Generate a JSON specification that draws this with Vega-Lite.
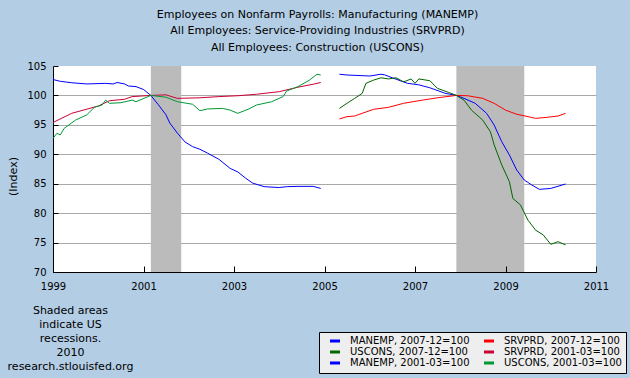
{
  "$schema": "https://vega.github.io/schema/vega-lite/v6.json",
  "width": 543,
  "height": 206,
  "autosize": {"type": "none"},
  "padding": {"left": 53, "top": 66, "right": 34, "bottom": 106},
  "background": "#B3CDE5",
  "config": {
    "view": {"fill": "#FFFFFF", "stroke": null},
    "font": "DejaVu Sans"
  },
  "title": {
    "text": ["Employees on Nonfarm Payrolls: Manufacturing (MANEMP)", "All Employees: Service-Providing Industries (SRVPRD)", "All Employees: Construction (USCONS)"],
    "font": "DejaVu Sans",
    "fontSize": 11,
    "fontWeight": "normal",
    "color": "#000000",
    "anchor": "middle",
    "lineHeight": 16.7,
    "offset": 8,
    "dx": -7
  },
  "datasets": {
    "rec": [
      {"start": "2001-03-01", "end": "2001-11-01"},
      {"start": "2007-12-01", "end": "2009-06-01"}
    ],
    "series": [
      {"date": "1999-01-01", "value": 102.7, "series": "MANEMP, 2001-03=100"},
      {"date": "1999-03-01", "value": 102.4, "series": "MANEMP, 2001-03=100"},
      {"date": "1999-06-01", "value": 102.15, "series": "MANEMP, 2001-03=100"},
      {"date": "1999-10-01", "value": 101.95, "series": "MANEMP, 2001-03=100"},
      {"date": "2000-03-01", "value": 102.05, "series": "MANEMP, 2001-03=100"},
      {"date": "2000-05-01", "value": 101.95, "series": "MANEMP, 2001-03=100"},
      {"date": "2000-06-01", "value": 102.2, "series": "MANEMP, 2001-03=100"},
      {"date": "2000-08-01", "value": 101.95, "series": "MANEMP, 2001-03=100"},
      {"date": "2000-09-01", "value": 101.6, "series": "MANEMP, 2001-03=100"},
      {"date": "2000-11-01", "value": 101.5, "series": "MANEMP, 2001-03=100"},
      {"date": "2001-01-01", "value": 101.0, "series": "MANEMP, 2001-03=100"},
      {"date": "2001-03-01", "value": 100.0, "series": "MANEMP, 2001-03=100"},
      {"date": "2001-05-01", "value": 98.4, "series": "MANEMP, 2001-03=100"},
      {"date": "2001-07-01", "value": 96.7, "series": "MANEMP, 2001-03=100"},
      {"date": "2001-08-01", "value": 95.3, "series": "MANEMP, 2001-03=100"},
      {"date": "2001-10-01", "value": 93.6, "series": "MANEMP, 2001-03=100"},
      {"date": "2001-12-01", "value": 92.1, "series": "MANEMP, 2001-03=100"},
      {"date": "2002-02-01", "value": 91.3, "series": "MANEMP, 2001-03=100"},
      {"date": "2002-04-01", "value": 90.85, "series": "MANEMP, 2001-03=100"},
      {"date": "2002-06-01", "value": 90.2, "series": "MANEMP, 2001-03=100"},
      {"date": "2002-09-01", "value": 89.15, "series": "MANEMP, 2001-03=100"},
      {"date": "2002-12-01", "value": 87.6, "series": "MANEMP, 2001-03=100"},
      {"date": "2003-02-01", "value": 87.0, "series": "MANEMP, 2001-03=100"},
      {"date": "2003-04-01", "value": 86.0, "series": "MANEMP, 2001-03=100"},
      {"date": "2003-06-01", "value": 85.1, "series": "MANEMP, 2001-03=100"},
      {"date": "2003-09-01", "value": 84.5, "series": "MANEMP, 2001-03=100"},
      {"date": "2004-01-01", "value": 84.35, "series": "MANEMP, 2001-03=100"},
      {"date": "2004-03-01", "value": 84.5, "series": "MANEMP, 2001-03=100"},
      {"date": "2004-06-01", "value": 84.55, "series": "MANEMP, 2001-03=100"},
      {"date": "2004-10-01", "value": 84.55, "series": "MANEMP, 2001-03=100"},
      {"date": "2004-12-01", "value": 84.2, "series": "MANEMP, 2001-03=100"},

      {"date": "1999-01-01", "value": 95.4, "series": "SRVPRD, 2001-03=100"},
      {"date": "1999-06-01", "value": 96.96, "series": "SRVPRD, 2001-03=100"},
      {"date": "2000-01-01", "value": 98.2, "series": "SRVPRD, 2001-03=100"},
      {"date": "2000-04-01", "value": 99.1, "series": "SRVPRD, 2001-03=100"},
      {"date": "2000-08-01", "value": 99.35, "series": "SRVPRD, 2001-03=100"},
      {"date": "2000-10-01", "value": 99.8, "series": "SRVPRD, 2001-03=100"},
      {"date": "2001-03-01", "value": 100.0, "series": "SRVPRD, 2001-03=100"},
      {"date": "2001-07-01", "value": 100.1, "series": "SRVPRD, 2001-03=100"},
      {"date": "2001-10-01", "value": 99.5, "series": "SRVPRD, 2001-03=100"},
      {"date": "2002-04-01", "value": 99.6, "series": "SRVPRD, 2001-03=100"},
      {"date": "2002-09-01", "value": 99.8, "series": "SRVPRD, 2001-03=100"},
      {"date": "2003-02-01", "value": 99.95, "series": "SRVPRD, 2001-03=100"},
      {"date": "2003-07-01", "value": 100.2, "series": "SRVPRD, 2001-03=100"},
      {"date": "2004-01-01", "value": 100.64, "series": "SRVPRD, 2001-03=100"},
      {"date": "2004-06-01", "value": 101.4, "series": "SRVPRD, 2001-03=100"},
      {"date": "2004-10-01", "value": 101.9, "series": "SRVPRD, 2001-03=100"},
      {"date": "2004-12-01", "value": 102.2, "series": "SRVPRD, 2001-03=100"},

      {"date": "1999-01-01", "value": 92.7, "series": "USCONS, 2001-03=100"},
      {"date": "1999-02-01", "value": 93.56, "series": "USCONS, 2001-03=100"},
      {"date": "1999-03-01", "value": 93.3, "series": "USCONS, 2001-03=100"},
      {"date": "1999-04-01", "value": 94.4, "series": "USCONS, 2001-03=100"},
      {"date": "1999-07-01", "value": 95.8, "series": "USCONS, 2001-03=100"},
      {"date": "1999-10-01", "value": 96.7, "series": "USCONS, 2001-03=100"},
      {"date": "1999-12-01", "value": 97.98, "series": "USCONS, 2001-03=100"},
      {"date": "2000-02-01", "value": 98.37, "series": "USCONS, 2001-03=100"},
      {"date": "2000-03-01", "value": 99.2, "series": "USCONS, 2001-03=100"},
      {"date": "2000-04-01", "value": 98.66, "series": "USCONS, 2001-03=100"},
      {"date": "2000-07-01", "value": 98.76, "series": "USCONS, 2001-03=100"},
      {"date": "2000-10-01", "value": 99.2, "series": "USCONS, 2001-03=100"},
      {"date": "2000-11-01", "value": 98.93, "series": "USCONS, 2001-03=100"},
      {"date": "2001-03-01", "value": 100.0, "series": "USCONS, 2001-03=100"},
      {"date": "2001-07-01", "value": 99.7, "series": "USCONS, 2001-03=100"},
      {"date": "2001-10-01", "value": 98.93, "series": "USCONS, 2001-03=100"},
      {"date": "2002-02-01", "value": 98.5, "series": "USCONS, 2001-03=100"},
      {"date": "2002-04-01", "value": 97.41, "series": "USCONS, 2001-03=100"},
      {"date": "2002-06-01", "value": 97.7, "series": "USCONS, 2001-03=100"},
      {"date": "2002-10-01", "value": 97.8, "series": "USCONS, 2001-03=100"},
      {"date": "2002-12-01", "value": 97.5, "series": "USCONS, 2001-03=100"},
      {"date": "2003-02-01", "value": 96.96, "series": "USCONS, 2001-03=100"},
      {"date": "2003-05-01", "value": 97.7, "series": "USCONS, 2001-03=100"},
      {"date": "2003-07-01", "value": 98.37, "series": "USCONS, 2001-03=100"},
      {"date": "2003-11-01", "value": 98.93, "series": "USCONS, 2001-03=100"},
      {"date": "2004-02-01", "value": 99.8, "series": "USCONS, 2001-03=100"},
      {"date": "2004-03-01", "value": 100.75, "series": "USCONS, 2001-03=100"},
      {"date": "2004-06-01", "value": 101.5, "series": "USCONS, 2001-03=100"},
      {"date": "2004-09-01", "value": 102.6, "series": "USCONS, 2001-03=100"},
      {"date": "2004-11-01", "value": 103.6, "series": "USCONS, 2001-03=100"},
      {"date": "2004-12-01", "value": 103.47, "series": "USCONS, 2001-03=100"},

      {"date": "2005-05-01", "value": 103.6, "series": "MANEMP, 2007-12=100"},
      {"date": "2005-07-01", "value": 103.47, "series": "MANEMP, 2007-12=100"},
      {"date": "2006-01-01", "value": 103.3, "series": "MANEMP, 2007-12=100"},
      {"date": "2006-04-01", "value": 103.6, "series": "MANEMP, 2007-12=100"},
      {"date": "2006-05-01", "value": 103.5, "series": "MANEMP, 2007-12=100"},
      {"date": "2006-07-01", "value": 103.0, "series": "MANEMP, 2007-12=100"},
      {"date": "2006-11-01", "value": 102.06, "series": "MANEMP, 2007-12=100"},
      {"date": "2007-02-01", "value": 101.8, "series": "MANEMP, 2007-12=100"},
      {"date": "2007-05-01", "value": 101.3, "series": "MANEMP, 2007-12=100"},
      {"date": "2007-09-01", "value": 100.36, "series": "MANEMP, 2007-12=100"},
      {"date": "2007-12-01", "value": 100.0, "series": "MANEMP, 2007-12=100"},
      {"date": "2008-02-01", "value": 99.5, "series": "MANEMP, 2007-12=100"},
      {"date": "2008-05-01", "value": 98.66, "series": "MANEMP, 2007-12=100"},
      {"date": "2008-08-01", "value": 96.96, "series": "MANEMP, 2007-12=100"},
      {"date": "2008-10-01", "value": 94.97, "series": "MANEMP, 2007-12=100"},
      {"date": "2008-12-01", "value": 92.14, "series": "MANEMP, 2007-12=100"},
      {"date": "2009-02-01", "value": 89.88, "series": "MANEMP, 2007-12=100"},
      {"date": "2009-04-01", "value": 87.33, "series": "MANEMP, 2007-12=100"},
      {"date": "2009-06-01", "value": 85.63, "series": "MANEMP, 2007-12=100"},
      {"date": "2009-08-01", "value": 84.78, "series": "MANEMP, 2007-12=100"},
      {"date": "2009-10-01", "value": 84.04, "series": "MANEMP, 2007-12=100"},
      {"date": "2010-01-01", "value": 84.2, "series": "MANEMP, 2007-12=100"},
      {"date": "2010-05-01", "value": 84.95, "series": "MANEMP, 2007-12=100"},

      {"date": "2005-05-01", "value": 96.0, "series": "SRVPRD, 2007-12=100"},
      {"date": "2005-07-01", "value": 96.4, "series": "SRVPRD, 2007-12=100"},
      {"date": "2005-09-01", "value": 96.5, "series": "SRVPRD, 2007-12=100"},
      {"date": "2005-11-01", "value": 96.96, "series": "SRVPRD, 2007-12=100"},
      {"date": "2006-02-01", "value": 97.64, "series": "SRVPRD, 2007-12=100"},
      {"date": "2006-06-01", "value": 97.98, "series": "SRVPRD, 2007-12=100"},
      {"date": "2006-10-01", "value": 98.66, "series": "SRVPRD, 2007-12=100"},
      {"date": "2007-03-01", "value": 99.2, "series": "SRVPRD, 2007-12=100"},
      {"date": "2007-07-01", "value": 99.6, "series": "SRVPRD, 2007-12=100"},
      {"date": "2007-12-01", "value": 100.0, "series": "SRVPRD, 2007-12=100"},
      {"date": "2008-03-01", "value": 99.95, "series": "SRVPRD, 2007-12=100"},
      {"date": "2008-07-01", "value": 99.5, "series": "SRVPRD, 2007-12=100"},
      {"date": "2008-10-01", "value": 98.66, "series": "SRVPRD, 2007-12=100"},
      {"date": "2009-01-01", "value": 97.5, "series": "SRVPRD, 2007-12=100"},
      {"date": "2009-04-01", "value": 96.8, "series": "SRVPRD, 2007-12=100"},
      {"date": "2009-07-01", "value": 96.4, "series": "SRVPRD, 2007-12=100"},
      {"date": "2009-09-01", "value": 96.1, "series": "SRVPRD, 2007-12=100"},
      {"date": "2009-12-01", "value": 96.28, "series": "SRVPRD, 2007-12=100"},
      {"date": "2010-03-01", "value": 96.5, "series": "SRVPRD, 2007-12=100"},
      {"date": "2010-05-01", "value": 96.96, "series": "SRVPRD, 2007-12=100"},

      {"date": "2005-05-01", "value": 97.8, "series": "USCONS, 2007-12=100"},
      {"date": "2005-07-01", "value": 98.66, "series": "USCONS, 2007-12=100"},
      {"date": "2005-09-01", "value": 99.5, "series": "USCONS, 2007-12=100"},
      {"date": "2005-11-01", "value": 100.36, "series": "USCONS, 2007-12=100"},
      {"date": "2005-12-01", "value": 102.06, "series": "USCONS, 2007-12=100"},
      {"date": "2006-02-01", "value": 102.6, "series": "USCONS, 2007-12=100"},
      {"date": "2006-04-01", "value": 103.0, "series": "USCONS, 2007-12=100"},
      {"date": "2006-06-01", "value": 102.8, "series": "USCONS, 2007-12=100"},
      {"date": "2006-08-01", "value": 103.0, "series": "USCONS, 2007-12=100"},
      {"date": "2006-10-01", "value": 102.3, "series": "USCONS, 2007-12=100"},
      {"date": "2006-12-01", "value": 102.8, "series": "USCONS, 2007-12=100"},
      {"date": "2007-01-01", "value": 102.06, "series": "USCONS, 2007-12=100"},
      {"date": "2007-02-01", "value": 102.8, "series": "USCONS, 2007-12=100"},
      {"date": "2007-05-01", "value": 102.5, "series": "USCONS, 2007-12=100"},
      {"date": "2007-07-01", "value": 101.2, "series": "USCONS, 2007-12=100"},
      {"date": "2007-10-01", "value": 100.5, "series": "USCONS, 2007-12=100"},
      {"date": "2007-12-01", "value": 100.0, "series": "USCONS, 2007-12=100"},
      {"date": "2008-02-01", "value": 99.2, "series": "USCONS, 2007-12=100"},
      {"date": "2008-04-01", "value": 97.5, "series": "USCONS, 2007-12=100"},
      {"date": "2008-07-01", "value": 95.8, "series": "USCONS, 2007-12=100"},
      {"date": "2008-09-01", "value": 93.8, "series": "USCONS, 2007-12=100"},
      {"date": "2008-10-01", "value": 91.6, "series": "USCONS, 2007-12=100"},
      {"date": "2008-12-01", "value": 88.2, "series": "USCONS, 2007-12=100"},
      {"date": "2009-02-01", "value": 85.35, "series": "USCONS, 2007-12=100"},
      {"date": "2009-03-01", "value": 82.5, "series": "USCONS, 2007-12=100"},
      {"date": "2009-05-01", "value": 81.4, "series": "USCONS, 2007-12=100"},
      {"date": "2009-07-01", "value": 78.8, "series": "USCONS, 2007-12=100"},
      {"date": "2009-09-01", "value": 77.1, "series": "USCONS, 2007-12=100"},
      {"date": "2009-11-01", "value": 76.3, "series": "USCONS, 2007-12=100"},
      {"date": "2010-01-01", "value": 74.7, "series": "USCONS, 2007-12=100"},
      {"date": "2010-03-01", "value": 75.15, "series": "USCONS, 2007-12=100"},
      {"date": "2010-05-01", "value": 74.6, "series": "USCONS, 2007-12=100"}
    ]
  },
  "layer": [
    {
      "data": {"name": "rec"},
      "mark": {"type": "rect", "color": "#BBBBBB", "opacity": 1},
      "encoding": {
        "x": {
          "field": "start", "type": "temporal",
          "scale": {"type": "utc", "domain": [{"year": 1999, "month": 1, "date": 1, "utc": true}, {"year": 2011, "month": 1, "date": 1, "utc": true}]},
          "axis": {
            "format": "%Y",
            "values": [
              {"year": 1999, "month": 1, "date": 1, "utc": true},
              {"year": 2001, "month": 1, "date": 1, "utc": true},
              {"year": 2003, "month": 1, "date": 1, "utc": true},
              {"year": 2005, "month": 1, "date": 1, "utc": true},
              {"year": 2007, "month": 1, "date": 1, "utc": true},
              {"year": 2009, "month": 1, "date": 1, "utc": true},
              {"year": 2011, "month": 1, "date": 1, "utc": true}
            ],
            "grid": false,
            "zindex": 1,
            "domainColor": "#000000",
            "tickColor": "#000000",
            "tickSize": -6,
            "labelFont": "DejaVu Sans",
            "labelFontSize": 10,
            "labelColor": "#000000",
            "labelPadding": 15,
            "labelFlush": false,
            "labelOverlap": false,
            "title": ["Shaded areas", "indicate US", "recessions.", "2010", "research.stlouisfed.org"],
            "titleFont": "DejaVu Sans",
            "titleFontSize": 11,
            "titleFontWeight": "normal",
            "titleColor": "#000000",
            "titleLineHeight": 14,
            "titleAlign": "center",
            "titleBaseline": "top",
            "titleX": 17,
            "titleY": 32
          }
        },
        "x2": {"field": "end"}
      }
    },
    {
      "data": {"name": "series"},
      "mark": {"type": "line", "strokeWidth": 1},
      "encoding": {
        "x": {"field": "date", "type": "temporal"},
        "y": {
          "field": "value", "type": "quantitative",
          "scale": {"domain": [70, 105], "nice": false, "zero": false},
          "axis": {
            "values": [70, 75, 80, 85, 90, 95, 100, 105],
            "grid": true,
            "gridColor": {"condition": {"test": "datum.value >= 105 || datum.value <= 70", "value": "transparent"}, "value": "#A8A8A8"},
            "domainColor": "#000000",
            "tickColor": "#000000",
            "tickSize": -5,
            "labelFont": "DejaVu Sans",
            "labelFontSize": 10,
            "labelColor": "#000000",
            "labelPadding": 12,
            "labelFlush": false,
            "labelOverlap": false,
            "title": "(Index)",
            "titleFont": "DejaVu Sans",
            "titleFontSize": 11,
            "titleFontWeight": "normal",
            "titleColor": "#000000",
            "titleAngle": 270,
            "titleAlign": "center",
            "titleBaseline": "middle",
            "titleX": -40,
            "titleY": 110
          }
        },
        "color": {
          "field": "series", "type": "nominal",
          "scale": {
            "domain": ["MANEMP, 2007-12=100", "USCONS, 2007-12=100", "MANEMP, 2001-03=100", "SRVPRD, 2007-12=100", "SRVPRD, 2001-03=100", "USCONS, 2001-03=100"],
            "range": ["#0000FF", "#006600", "#0000FF", "#FF0000", "#CC0033", "#009933"]
          },
          "legend": {
            "orient": "none",
            "legendX": 266,
            "legendY": 266,
            "title": null,
            "columns": 2,
            "direction": "vertical",
            "fillColor": "#EEEEEE",
            "strokeColor": "#000000",
            "padding": 4,
            "rowPadding": -1,
            "columnPadding": 7,
            "symbolType": "M0.8,0H4.8",
            "symbolSize": 25,
            "symbolStrokeWidth": 3,
            "labelFont": "DejaVu Sans",
            "labelFontSize": 10,
            "labelColor": "#000000",
            "labelOffset": 17,
            "labelLimit": 300
          }
        }
      }
    }
  ]
}
